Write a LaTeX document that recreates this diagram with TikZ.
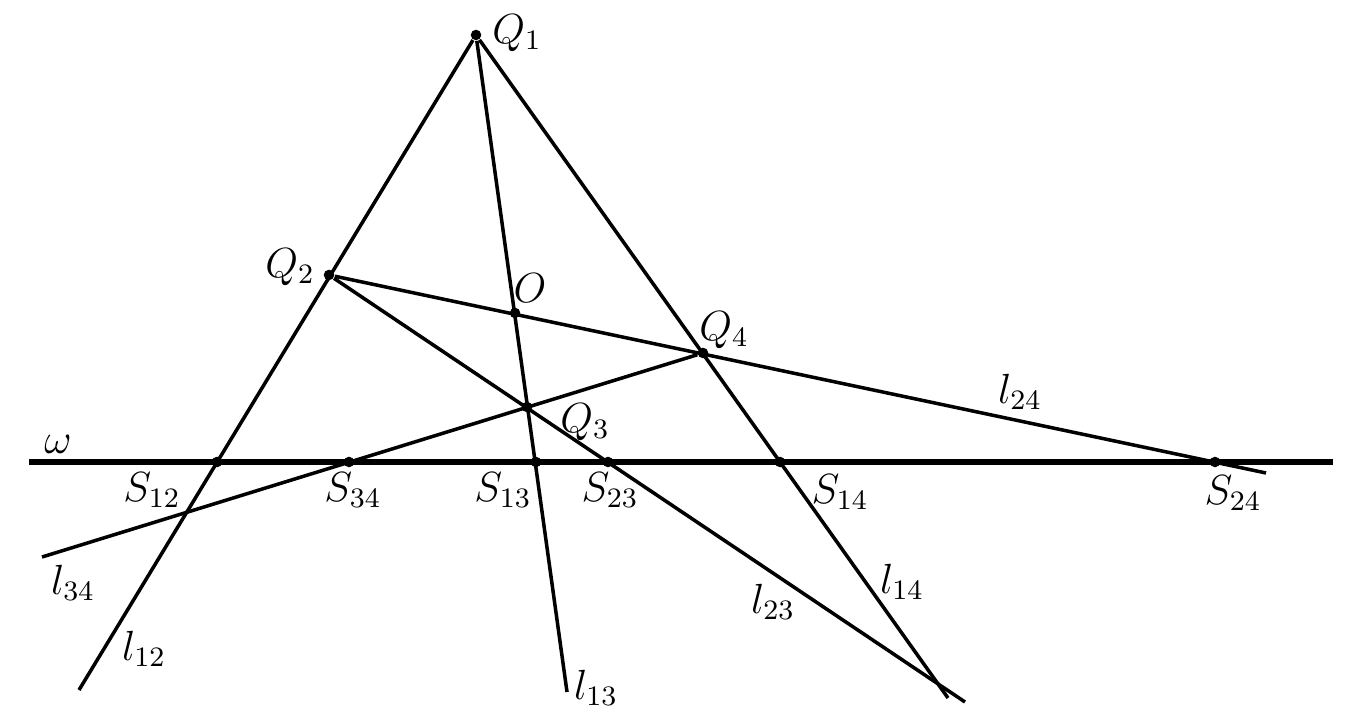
\documentclass[tikz,border=0pt]{standalone}
\usepackage{amsmath}
\usepackage{amssymb}
\usepackage{tikz}
\usetikzlibrary{positioning}
\tikzset{circ/.style = {fill, circle, inner sep = 0, minimum size = 3pt}}
\tikzset{ln/.style = {line width = 1pt}}
\tikzset{axis/.style = {line width = 1.6pt}}

\begin{document}
\begin{tikzpicture}[font = \large]
      \useasboundingbox (0, 0) rectangle (13.55, 7.25);

      \node [circ] (q1) at (4.76, 6.90) {};
      \node [circ] (q2) at (3.29, 4.50) {};
      \node [circ] (o) at (5.15, 4.12) {};
      \node [circ] (q4) at (7.03, 3.72) {};
      \node [circ] (q3) at (5.27, 3.18) {};

      \node [circ] (s12) at (2.17, 2.63) {};
      \node [circ] (s34) at (3.49, 2.63) {};
      \node [circ] (s13) at (5.36, 2.63) {};
      \node [circ] (s23) at (6.08, 2.63) {};
      \node [circ] (s14) at (7.80, 2.63) {};
      \node [circ] (s24) at (12.15, 2.63) {};

      \coordinate (w1) at (0.29, 2.63);
      \coordinate (w2) at (13.33, 2.63);
      \coordinate (e12) at (0.79, 0.35);
      \coordinate (e13) at (5.67, 0.33);
      \coordinate (e14) at (9.48, 0.27);
      \coordinate (e23) at (9.65, 0.23);
      \coordinate (e24) at (12.66, 2.52);
      \coordinate (e34) at (0.42, 1.68);

      \draw [axis] (w1) -- (w2);
      \draw [ln] (q1) -- (e12);
      \draw [ln] (q1) -- (e13);
      \draw [ln] (q1) -- (e14);
      \draw [ln] (q2) -- (e23);
      \draw [ln] (q2) -- (e24);
      \draw [ln] (e34) -- (q4);

      \node (lq1) at (5.17, 6.92) {$Q_1$};
      \node (lq2) at (2.90, 4.58) {$Q_2$};
      \node (lo) at (5.30, 4.37) {$O$};
      \node (lq4) at (7.24, 3.95) {$Q_4$};
      \node (lq3) at (5.85, 3.03) {$Q_3$};
      \node (lw) at (0.58, 2.81) {$\omega$};

      \node (ls12) at (1.52, 2.35) {$S_{12}$};
      \node (ls34) at (3.53, 2.35) {$S_{34}$};
      \node (ls13) at (5.03, 2.35) {$S_{13}$};
      \node (ls23) at (6.10, 2.35) {$S_{23}$};
      \node (ls14) at (8.40, 2.33) {$S_{14}$};
      \node (ls24) at (12.33, 2.32) {$S_{24}$};

      \node (l34) at (0.73, 1.42) {$l_{34}$};
      \node (l12) at (1.44, 0.76) {$l_{12}$};
      \node (l13) at (5.96, 0.37) {$l_{13}$};
      \node (l23) at (7.73, 1.23) {$l_{23}$};
      \node (l14) at (9.02, 1.43) {$l_{14}$};
      \node (l24) at (10.20, 3.33) {$l_{24}$};
    \end{tikzpicture}
\end{document}
